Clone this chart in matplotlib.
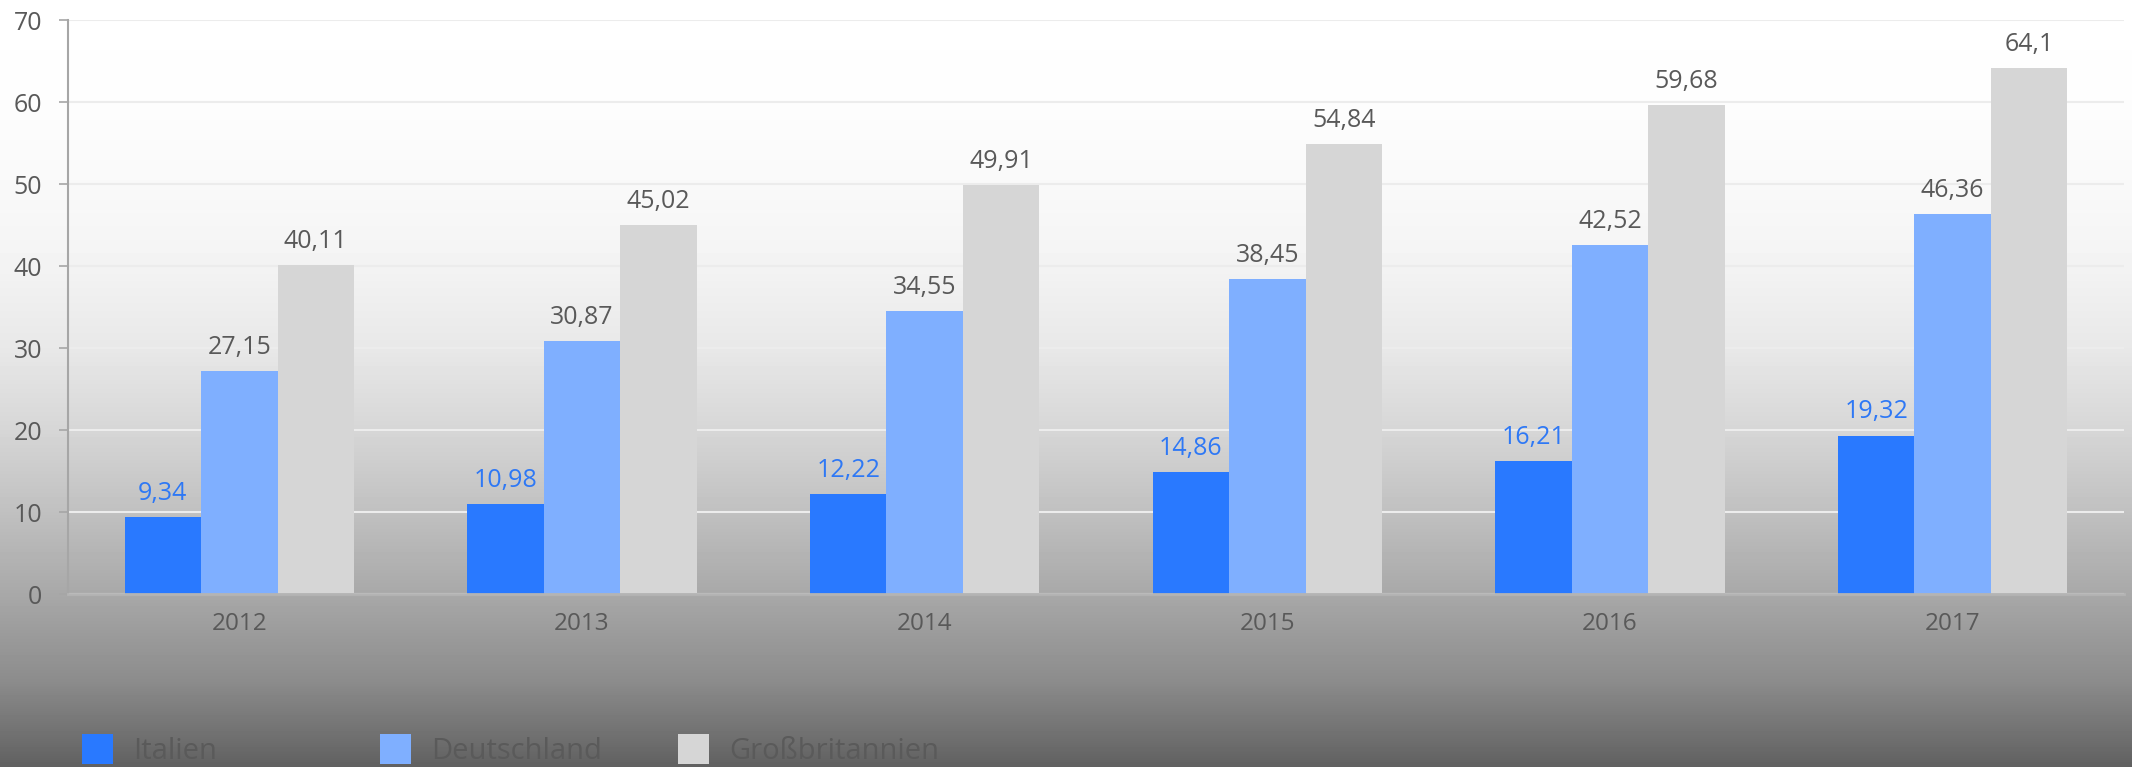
import numpy as np
import matplotlib
matplotlib.use("Agg")
import matplotlib.pyplot as plt
from matplotlib.patches import Patch

years = ["2012", "2013", "2014", "2015", "2016", "2017"]
italien = [9.34, 10.98, 12.22, 14.86, 16.21, 19.32]
deutschland = [27.15, 30.87, 34.55, 38.45, 42.52, 46.36]
grossbritannien = [40.11, 45.02, 49.91, 54.84, 59.68, 64.1]
series_names = ["Italien", "Deutschland", "Großbritannien"]
colors = ["#2979ff", "#7fafff", "#d6d6d6"]
label_colors = ["#2e78f5", "#595959", "#595959"]

plt.rcParams['font.family'] = ['Open Sans', 'DejaVu Sans']

W, H = 2132, 767
fig = plt.figure(figsize=(W / 100, H / 100), dpi=100)

# background gradient (white at top, dark grey at bottom)
stops_px = [0, 100, 200, 266, 348, 430, 512, 594, 680, 767]
stops_val = [255, 253, 248, 243, 232, 214, 192, 168, 140, 96]
rows = np.interp(np.arange(H), stops_px, stops_val) / 255.0
bg_ax = fig.add_axes([0, 0, 1, 1], zorder=-10)
bg_ax.imshow(rows[:, None], cmap="gray", vmin=0, vmax=1, aspect="auto",
             extent=[0, 1, 0, 1], origin="upper")
bg_ax.set_axis_off()

ax = fig.add_axes([68 / W, 1 - 594 / H, (2124 - 68) / W, (594 - 20) / H])
ax.patch.set_alpha(0)

x = np.arange(len(years))
w = 0.223
data = [italien, deutschland, grossbritannien]
for i, vals in enumerate(data):
    bars = ax.bar(x + (i - 1) * w, vals, width=w, color=colors[i],
                  label=series_names[i], zorder=3)
    ax.bar_label(bars, labels=[f"{v:g}".replace(".", ",") for v in vals],
                 padding=8, fontsize=18, color=label_colors[i])

ax.set_xlim(-0.5, len(years) - 0.5)
ax.set_ylim(0, 70)
ax.set_yticks(range(0, 71, 10))
ax.set_xticks(x)
ax.set_xticklabels(years)
ax.grid(axis="y", color="#ececec", linewidth=1.5, zorder=0)

for s in ["top", "right"]:
    ax.spines[s].set_visible(False)
ax.spines["left"].set_color("#a6a6a6")
ax.spines["left"].set_linewidth(1.5)
ax.spines["bottom"].set_color("#b4b4b4")
ax.spines["bottom"].set_linewidth(2)
ax.spines["bottom"].set_zorder(4)

ax.tick_params(axis="y", length=6.5, width=1.2, color="#a6a6a6", pad=12,
               labelsize=18, labelcolor="#595959")
ax.tick_params(axis="x", length=0, pad=13, labelsize=17.5, labelcolor="#595959")

# Excel-style legend: equally spaced entries, one legend per entry
legend_x = [82, 380, 678]
for c, n, lx in zip(colors, series_names, legend_x):
    leg = fig.legend(handles=[Patch(facecolor=c, label=n)], loc="upper left",
                     bbox_to_anchor=(lx / W, 1 - 734 / H), frameon=False,
                     fontsize=21, labelcolor="#5a5a5a", borderpad=0,
                     borderaxespad=0, handlelength=1.07, handleheight=1.2,
                     handletextpad=0.68)

fig.savefig("out.png", dpi=100)
